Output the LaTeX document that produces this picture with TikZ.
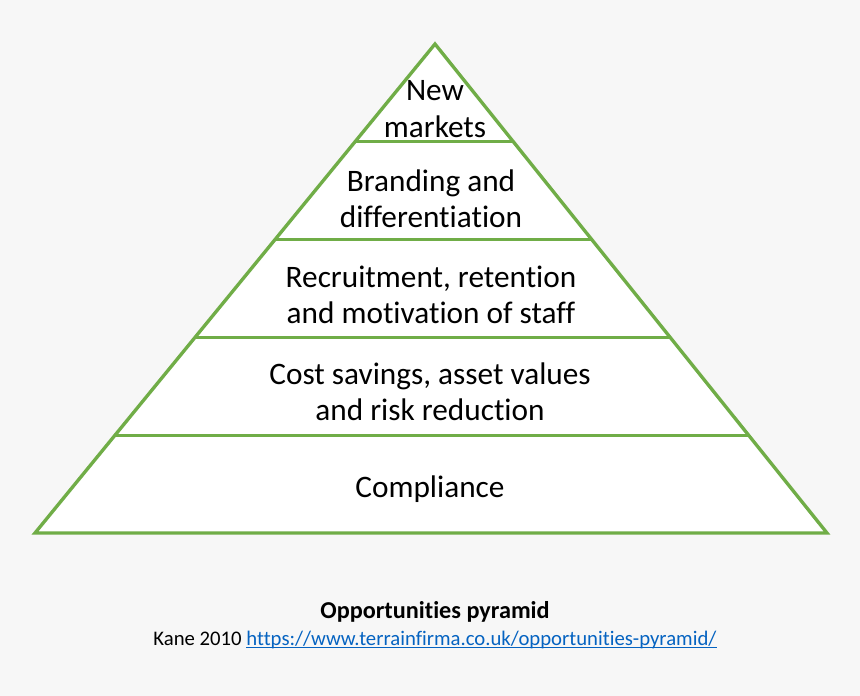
\documentclass[tikz,border=0pt]{standalone}
\usepackage{fontspec}
\setmainfont{Carlito}[Ligatures=NoCommon]
\usetikzlibrary{calc}
\definecolor{pyrgreen}{RGB}{112,173,71}
\definecolor{bggray}{RGB}{247,247,247}
\definecolor{linkblue}{RGB}{5,99,193}
\newcommand\linktext[1]{\setbox0\hbox{#1}\rlap{\rule[-1.4pt]{\wd0}{0.6pt}}\box0}
\begin{document}
\begin{tikzpicture}[
            x=0.02cm, y=-0.02cm,
            level/.style={text centered, align=center, font=\fontsize{17.8}{20.6}\selectfont},
            edge/.style={draw=pyrgreen, line width=1.9pt}
        ]
            \useasboundingbox[fill=bggray] (0,0) rectangle (860,696);
            \coordinate (apex) at (435,44);
            \coordinate (bl) at (35,533);
            \coordinate (br) at (827,533);
            \fill[white] (apex) -- (bl) -- (br) -- cycle;
            
            \foreach \t in {0.2,0.4,0.6,0.8}
                \draw[edge] ($(apex)!\t!(bl)$) -- ($(apex)!\t!(br)$);
            \draw[edge, line join=miter] (apex) -- (bl) -- (br) -- cycle;
            
            \node[level] (markets) at (435,109) {New\\markets};
            \node[level] (branding) at (431,199) {Branding and\\differentiation};
            \node[level] (staff) at (431,295) {Recruitment, retention\\and motivation of staff};
            \node[level] (savings) at (430,392) {Cost savings, asset values\\and risk reduction};
            \node[level] (compliance) at (430,489) {Compliance};
            
            \node[font=\fontsize{13.8}{15.5}\selectfont\bfseries] (title) at (435,612) {Opportunities pyramid};
            \node[font=\fontsize{11.8}{15.5}\selectfont] (source) at (435,640) {Kane 2010 \textcolor{linkblue}{\linktext{https://www.terrainfirma.co.uk/opportunities-pyramid/}}};
        \end{tikzpicture}
\end{document}
